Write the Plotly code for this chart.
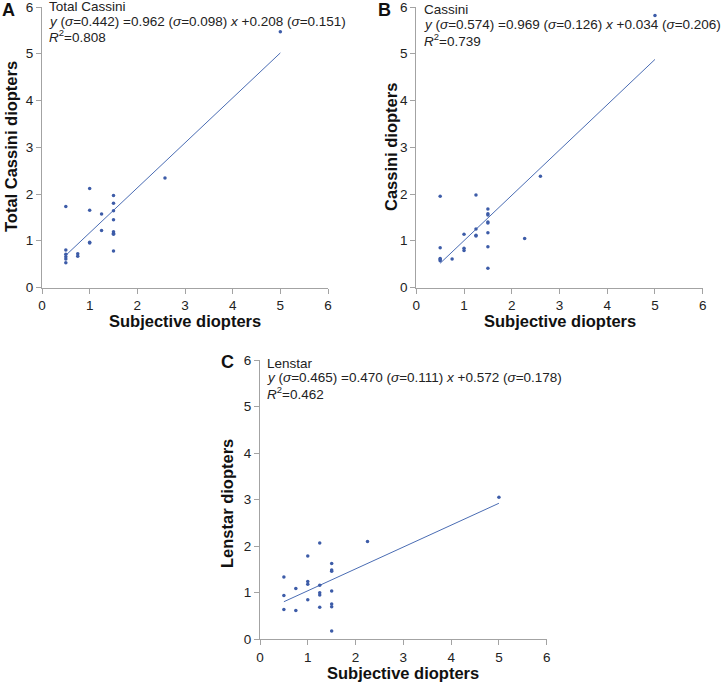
import plotly.graph_objects as go

W, H = 724, 682

# panel A: Total Cassini vs subjective
a_x = [0.5, 0.5, 0.5, 0.5, 0.5, 0.5, 0.75, 0.75, 1.0, 1.0, 1.0, 1.0, 1.25, 1.25,
       1.5, 1.5, 1.5, 1.5, 1.5, 1.5, 1.5, 1.5, 2.58, 5.0]
a_y = [1.73, 0.80, 0.71, 0.66, 0.61, 0.53, 0.72, 0.67, 2.12, 1.65, 0.97, 0.95, 1.57, 1.22,
       1.97, 1.80, 1.64, 1.45, 1.19, 1.16, 1.14, 0.78, 2.34, 5.47]
a_fit = (0.962, 0.208)

# panel B: Cassini vs subjective
b_x = [0.5, 0.5, 0.5, 0.5, 0.5, 0.75, 1.0, 1.0, 1.0, 1.25, 1.25, 1.25, 1.25,
       1.5, 1.5, 1.5, 1.5, 1.5, 1.5, 1.5, 1.5, 2.27, 2.6, 5.0]
b_y = [1.95, 0.85, 0.62, 0.60, 0.57, 0.61, 1.14, 0.84, 0.79, 1.98, 1.25, 1.12, 1.10,
       1.68, 1.58, 1.55, 1.40, 1.38, 1.17, 0.87, 0.41, 1.05, 2.38, 5.82]
b_fit = (0.969, 0.034)

# panel C: Lenstar vs subjective
c_x = [0.5, 0.5, 0.5, 0.75, 0.75, 1.0, 1.0, 1.0, 1.0, 1.25, 1.25, 1.25, 1.25, 1.25,
       1.5, 1.5, 1.5, 1.5, 1.5, 1.5, 1.5, 2.25, 5.0]
c_y = [1.34, 0.94, 0.64, 1.09, 0.62, 1.79, 1.24, 1.18, 0.85, 2.07, 1.16, 1.00, 0.95, 0.69,
       1.63, 1.49, 1.46, 1.04, 0.76, 0.70, 0.18, 2.10, 3.05]
c_fit = (0.470, 0.572)

ticks = [0, 1, 2, 3, 4, 5, 6]

DOT = "#3d5ca8"
LINE = "#4a6cb3"
AXIS = "#a3a3a3"
FONT = "Arial, Liberation Sans, sans-serif"


def px(x):
    return x / W


def py(y):
    return 1 - y / H


# plot boxes in pixels: left, right, top, bottom
boxes = [(42, 328, 7, 287.5), (416.3, 702.7, 7, 287.5), (260, 546.7, 360, 639.3)]

panels = [
    dict(x=a_x, y=a_y, fit=a_fit, letter="A", ytitle="Total Cassini diopters",
         lines=["Total Cassini",
                "<i>y</i> (<i>σ</i>=0.442) =0.962 (<i>σ</i>=0.098) <i>x</i> +0.208 (<i>σ</i>=0.151)",
                "<i>R</i><sup>2</sup>=0.808"],
         txt_x=47, txt_y=[7, 21.5, 36.5], letter_xy=(8, 10), ytitle_x=11, ytitle_y=147,
         xtitle_xy=(185, 321)),
    dict(x=b_x, y=b_y, fit=b_fit, letter="B", ytitle="Cassini diopters",
         lines=["Cassini",
                "<i>y</i> (<i>σ</i>=0.574) =0.969 (<i>σ</i>=0.126) <i>x</i> +0.034 (<i>σ</i>=0.206)",
                "<i>R</i><sup>2</sup>=0.739"],
         txt_x=422, txt_y=[10, 25, 40], letter_xy=(384, 10), ytitle_x=391, ytitle_y=147,
         xtitle_xy=(560, 321)),
    dict(x=c_x, y=c_y, fit=c_fit, letter="C", ytitle="Lenstar diopters",
         lines=["Lenstar",
                "<i>y</i> (<i>σ</i>=0.465) =0.470 (<i>σ</i>=0.111) <i>x</i> +0.572 (<i>σ</i>=0.178)",
                "<i>R</i><sup>2</sup>=0.462"],
         txt_x=265, txt_y=[363, 378, 393], letter_xy=(227, 362), ytitle_x=227, ytitle_y=504,
         xtitle_xy=(403, 673)),
]

fig = go.Figure()
annotations = []
layout = {}

for i, (p, box) in enumerate(zip(panels, boxes)):
    n = "" if i == 0 else str(i + 1)
    xa, ya = "x" + n, "y" + n
    x0, x1 = min(p["x"]), max(p["x"])
    m, b = p["fit"]
    fig.add_trace(go.Scatter(x=[x0, x1], y=[m * x0 + b, m * x1 + b], mode="lines",
                             line=dict(color=LINE, width=1), xaxis=xa, yaxis=ya,
                             showlegend=False, hoverinfo="skip"))
    fig.add_trace(go.Scatter(x=p["x"], y=p["y"], mode="markers",
                             marker=dict(color=DOT, size=3.5), xaxis=xa, yaxis=ya,
                             showlegend=False))
    l, r, t, btm = box
    common = dict(range=[0, 6], tickvals=ticks, showgrid=False, zeroline=False,
                  showline=True, linecolor=AXIS, linewidth=1.3, ticks="outside",
                  ticklen=5, tickcolor=AXIS, ticklabeloverflow="allow",
                  tickfont=dict(size=13.5, color="#222", family=FONT))
    layout["xaxis" + n] = dict(domain=[px(l), px(r)], anchor=ya, **common)
    layout["yaxis" + n] = dict(domain=[py(btm), py(t)], anchor=xa, **common)

    for line, yy in zip(p["lines"], p["txt_y"]):
        annotations.append(dict(x=px(p["txt_x"]), y=py(yy), xref="paper", yref="paper",
                                text=line, showarrow=False, xanchor="left", yanchor="middle",
                                font=dict(size=13.5, color="#222", family=FONT)))
    annotations.append(dict(x=px(p["letter_xy"][0]), y=py(p["letter_xy"][1]), xref="paper",
                            yref="paper", text="<b>" + p["letter"] + "</b>", showarrow=False,
                            xanchor="center", yanchor="middle",
                            font=dict(size=18, color="#111", family=FONT)))
    annotations.append(dict(x=px(p["ytitle_x"]), y=py(p["ytitle_y"]), xref="paper", yref="paper",
                            text="<b>" + p["ytitle"] + "</b>", textangle=-90, showarrow=False,
                            xanchor="center", yanchor="middle",
                            font=dict(size=16.5, color="#111", family=FONT)))
    annotations.append(dict(x=px(p["xtitle_xy"][0]), y=py(p["xtitle_xy"][1]), xref="paper",
                            yref="paper", text="<b>Subjective diopters</b>", showarrow=False,
                            xanchor="center", yanchor="middle",
                            font=dict(size=16.5, color="#111", family=FONT)))

# autoexpand off: texts near the edges must not push the margins and squeeze the panels
fig.update_layout(width=W, height=H,
                  margin=dict(l=0, r=0, t=0, b=0, autoexpand=False),
                  paper_bgcolor="white", plot_bgcolor="white",
                  annotations=annotations, **layout)

# page with no body margin and no scrollbars, so the figure fills the window exactly
fig.write_html("out.html", config={"displayModeBar": False},
               post_script="document.body.style.margin='0';document.body.style.overflow='hidden';")
